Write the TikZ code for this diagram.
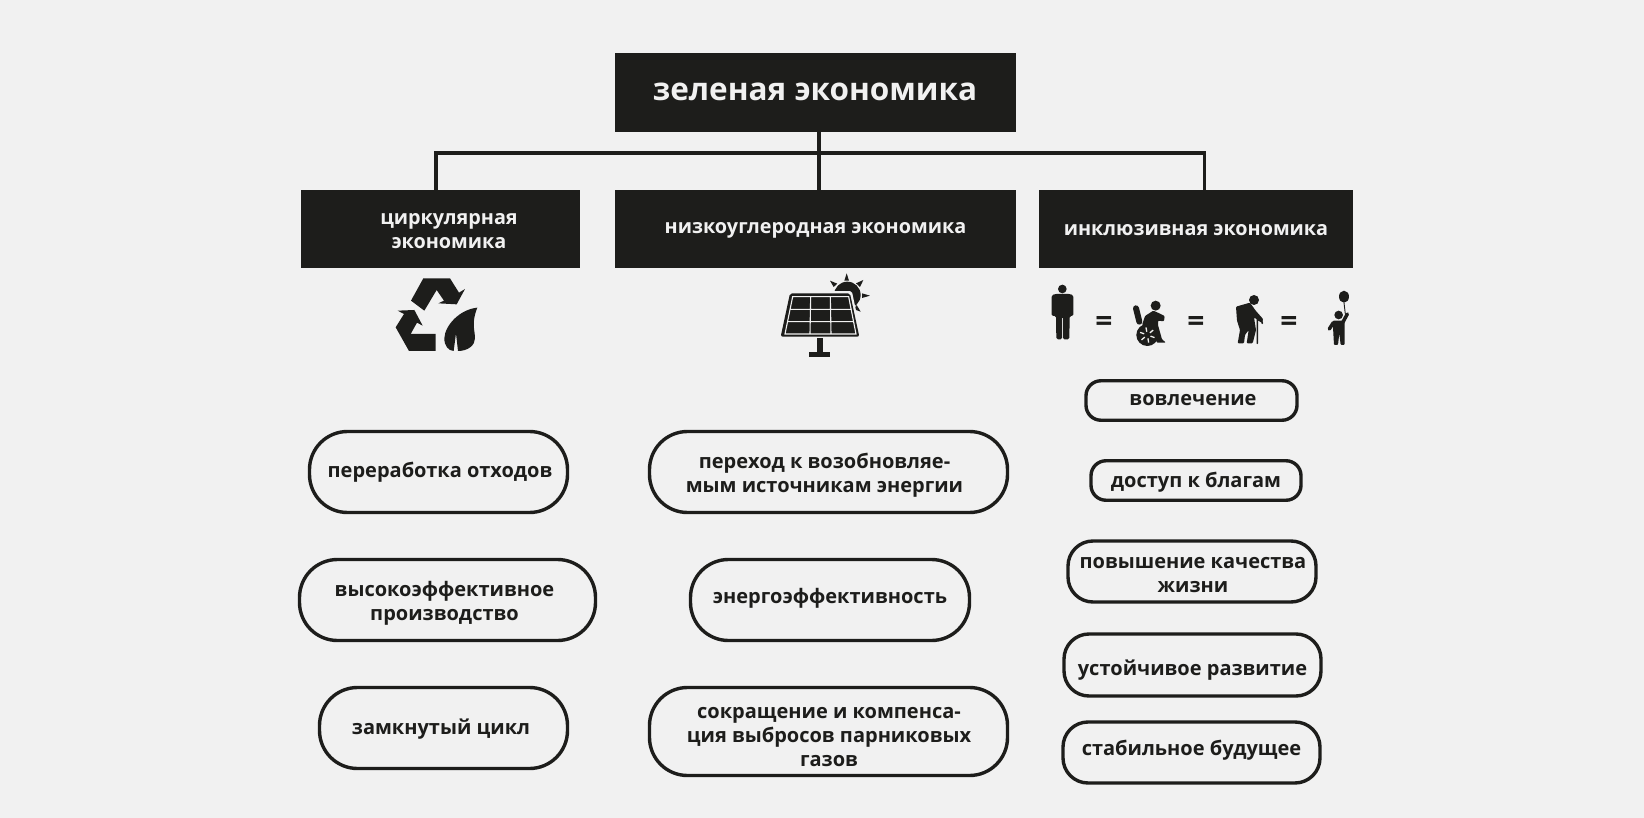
\documentclass[tikz,border=0pt]{standalone}
\usepackage{fontspec}
\setmainfont{Open Sans}
\usepackage{xcolor}
\definecolor{paper}{HTML}{F1F1F1}
\definecolor{ink}{HTML}{1D1D1B}
\newcommand{\pillsize}{\fontsize{20}{24}\selectfont\bfseries}
\begin{document}
\begin{tikzpicture}[
          x=1pt,y=-1pt,
          headbox/.style={rectangle,fill=ink,inner sep=0pt},
          headtext/.style={text=paper,align=center,font=\fontsize{19.8}{24}\selectfont\bfseries},
          pill/.style={rectangle,draw=ink,line width=3.4pt,fill=paper,inner sep=0pt,rounded corners=38pt},
          midpill/.style={pill,rounded corners=25pt},
          smallpill/.style={pill,rounded corners=15pt},
          pilltext/.style={text=ink,align=center,font=\pillsize},
          bus/.style={draw=ink,line width=3.5pt},
          equal/.style={text=ink,font=\fontsize{30}{30}\selectfont\bfseries,inner sep=0pt},
          limb/.style={draw=ink,line width=5pt,line cap=round,line join=round},
        ]
        \fill[paper] (0,0) rectangle (1644,818);
        % header row
        \node[headbox,minimum width=401,minimum height=78.5,
          label={[headtext,font=\fontsize{31.5}{36}\selectfont\bfseries,xshift=-0.5pt,yshift=1pt]center:зеленая экономика}] (green) at (815.5,92.75) {};
        \node[headbox,minimum width=279,minimum height=78.5,
          label={[headtext,xshift=8.5pt,yshift=-2.5pt]center:циркулярная\\экономика}] (circular) at (440.5,229) {};
        \node[headbox,minimum width=401,minimum height=78.5,
          label={[headtext,yshift=-1pt]center:низкоуглеродная экономика}] (lowcarbon) at (815.5,229) {};
        \node[headbox,minimum width=314.5,minimum height=78.5,
          label={[headtext,yshift=-1pt]center:инклюзивная экономика}] (inclusive) at (1196,229) {};
        % bus between the boxes
        \coordinate (busl) at (436,153);
        \coordinate (busm) at (819,153);
        \coordinate (busr) at (1204.5,153);
        \draw[bus] (green.south -| busm) -- (lowcarbon.north -| busm);
        \draw[bus] (circular.north -| busl) -- (busl) -- (busr) -- (inclusive.north -| busr);
        % left column
        \node[pill,minimum width=258,minimum height=81,
          label={[pilltext,xshift=1.5pt,yshift=0pt]center:переработка отходов}] (waste) at (438.5,472) {};
        \node[pill,minimum width=296,minimum height=81,
          label={[pilltext,xshift=-3pt,yshift=-3pt]center:высокоэффективное\\производство}] (production) at (447.5,600) {};
        \node[pill,minimum width=248,minimum height=81,
          label={[pilltext,xshift=-2.5pt,yshift=-1.5pt]center:замкнутый цикл}] (loop) at (443.5,728) {};
        % middle column
        \node[pill,minimum width=358,minimum height=81,
          label={[pilltext,xshift=-4pt,yshift=-3.5pt]center:переход к возобновляе-\\мым источникам энергии}] (renewable) at (828.5,472) {};
        \node[pill,minimum width=279,minimum height=81,
          label={[pilltext,xshift=0pt,yshift=1.5pt]center:энергоэффективность}] (efficiency) at (830,600) {};
        \node[pill,minimum width=358,minimum height=88,
          label={[pilltext,xshift=0.5pt,yshift=-6pt]center:сокращение и компенса-\\ция выбросов парниковых\\газов}] (reduction) at (828.5,731.5) {};
        % right column
        \node[smallpill,minimum width=211,minimum height=39.5,
          label={[pilltext,xshift=1.5pt,yshift=0.5pt]center:вовлечение}] (involve) at (1191.5,400.5) {};
        \node[smallpill,minimum width=210,minimum height=39.5,
          label={[pilltext,xshift=0pt,yshift=-2pt]center:доступ к благам}] (access) at (1196,480.5) {};
        \node[midpill,minimum width=248,minimum height=61,
          label={[pilltext,xshift=1pt,yshift=-3.5pt]center:повышение качества\\жизни}] (quality) at (1192,571.5) {};
        \node[midpill,minimum width=257,minimum height=62,
          label={[pilltext,xshift=0pt,yshift=-5pt]center:устойчивое развитие}] (sustain) at (1192.5,665) {};
        \node[midpill,minimum width=257,minimum height=61,
          label={[pilltext,xshift=0pt,yshift=2.5pt]center:стабильное будущее}] (future) at (1191.5,752.5) {};
        % equal signs
        \node[equal] (eqa) at (1104,324) {=};
        \node[equal] (eqb) at (1196,324) {=};
        \node[equal] (eqc) at (1289,324) {=};
        % recycling sign with leaf
        \begin{scope}[shift={(385,270)},x=0.3333pt,y=-0.3333pt]
          \fill[ink] (78,92) -- (118,122) -- (155,60) -- (177,92) -- (160,100) -- (215,103)
            -- (240,57) -- (222,68) -- (195,25) -- (115,25) -- cycle;
          \fill[ink] (38,122) -- (88,120) -- (113,167) -- (96,158) -- (77,192) -- (152,192)
            -- (152,243) -- (72,243) -- (32,172) -- (57,132) -- cycle;
          \fill[ink] (277,113) .. controls (225,118) and (180,165) .. (178,205)
            .. controls (178,228) and (190,242) .. (206,243) -- (213,190) -- (219,243)
            .. controls (250,243) and (270,225) .. (270,205)
            .. controls (270,180) and (258,160) .. (277,113) -- cycle;
        \end{scope}
        % solar panel
        \begin{scope}[shift={(770,270)},x=0.3333pt,y=-0.3333pt]
          \fill[ink] (230,10) -- (223,32) -- (237,32) -- cycle;
          \fill[ink] (180,32) -- (202,41) -- (191,51) -- cycle;
          \fill[ink] (280,30) -- (258,40) -- (270,51) -- cycle;
          \fill[ink] (300,77) -- (276,70) -- (276,84) -- cycle;
          \fill[ink] (272,125) -- (252,118) -- (260,105) -- cycle;
          \fill[ink] (232,75) circle (40);
          \draw[line width=4.5pt,line join=round,draw=paper] (60,70) -- (240,70) -- (268,200) -- (32,200) -- cycle;
          \fill[ink,rounded corners=2pt] (60,70) -- (240,70) -- (268,200) -- (32,200) -- cycle;
          \draw[paper,line width=1.1pt] (68,80) -- (236,80) -- (258,192) -- (45,192) -- cycle
            (60,118) -- (243,118) (53,155) -- (251,155) (122,80) -- (120,192) (181,80) -- (183,192);
          \fill[ink] (142,205) rectangle (160,245);
          \fill[ink] (117,245) rectangle (180,262);
        \end{scope}
        % people
        \begin{scope}[shift={(1040,280)},x=0.3333pt,y=-0.3333pt]
          \fill[ink] (67,27) circle (13);
          \fill[ink,rounded corners=1.5pt] (35,108) -- (35,46) -- (45,42) -- (90,42) -- (100,46) -- (100,108) -- (89,108) -- (88,178) -- (69,178) -- (69,110) -- (66,110) -- (66,178) -- (49,178) -- (48,108) -- cycle;
          % wheelchair
          \fill[ink] (347,77) circle (15);
          \draw[limb,line width=6pt] (288,85) -- (298,125);
          \fill[ink,rounded corners=1pt] (306,135) -- (315,108) -- (340,92) -- (358,100) -- (374,108) -- (372,124) -- (354,122) -- (354,135) -- (366,178) -- (378,188) -- (350,188) -- (342,150) -- cycle;
          \fill[ink] (322,165) circle (33);
          \foreach \spoke in {0,60,...,300}
            \draw[paper,line width=1.3pt] (322,165) ++(\spoke+20:10) -- ++(\spoke+20:13);
        \end{scope}
        \begin{scope}[shift={(1200,280)},x=0.3333pt,y=-0.3333pt]
          % old man
          \fill[ink] (162,60) circle (15);
          \fill[ink,rounded corners=1pt] (108,80) -- (150,68) -- (167,92) -- (190,118) -- (184,128) -- (162,112) -- (168,150) -- (158,190) -- (140,190) -- (146,150) -- (135,165) -- (132,190) -- (113,190) -- (120,150) -- (111,122) -- cycle;
          \draw[ink,line width=1.6pt,line cap=round] (172,190) -- (172,120) -- (184,118) -- (187,130);
          % child with balloon
          \fill[ink] (432,50) ellipse (15 and 18);
          \draw[ink,line width=0.9pt] (432,68) -- (436,102);
          \fill[ink] (416,105) circle (13);
          \draw[limb,line width=3.5pt] (400,128) -- (388,147);
          \draw[limb,line width=3.5pt] (428,128) -- (442,102);
          \fill[ink,rounded corners=1pt] (398,122) -- (434,122) -- (434,195) -- (422,195) -- (418,160) -- (414,195) -- (402,195) -- cycle;
        \end{scope}
      \end{tikzpicture}
\end{document}
